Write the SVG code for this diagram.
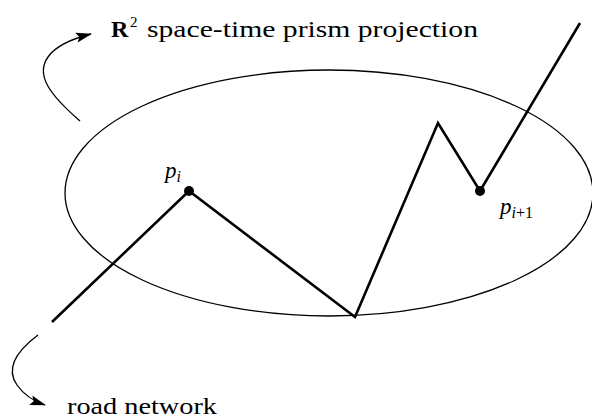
<svg xmlns="http://www.w3.org/2000/svg" width="592" height="419" viewBox="0 0 592 419">
<defs>
<style>
.t{font-family:"Liberation Serif","DejaVu Serif",serif;fill:#000}
.road{fill:none;stroke:#000;stroke-width:2.6;stroke-linejoin:miter}
.thin{fill:none;stroke:#000;stroke-width:1.3}
</style>
<marker id="ah" viewBox="0 0 10 10" refX="9" refY="5" markerWidth="10" markerHeight="10" markerUnits="userSpaceOnUse" orient="auto" overflow="visible">
<path d="M0,0 L16,5 L0,10 L3,5 Z" fill="#000" transform="translate(-6,0)"/>
</marker>
</defs>
<rect width="592" height="419" fill="#fff"/>
<g id="prism">
<ellipse class="thin" cx="329" cy="193" rx="264" ry="123"/>
</g>
<g id="connectors">
<path class="road" d="M52,322 L189,191 L355,317 L438,123 L480,191 L580,23"/>
<path class="thin" d="M80,121 C50,95 35,75 48,57 C57,44 75,38 91,34" marker-end="url(#ah)"/>
<path class="thin" d="M38,335 C18,350 5,368 17,385 C24,395 33,401 45,405" marker-end="url(#ah)"/>
</g>
<g id="pi">
<circle cx="189" cy="191" r="5"/>
<text class="t" x="165" y="178" font-size="23" font-style="italic">p<tspan font-size="16" dy="4">i</tspan></text>
</g>
<g id="pi1">
<circle cx="480" cy="191" r="5"/>
<text class="t" x="500" y="214" font-size="23" font-style="italic">p<tspan font-size="16" dy="4">i</tspan><tspan font-size="16" font-style="normal">+1</tspan></text>
</g>
<g id="label-r2">
<text class="t" x="111" y="37" font-size="24" font-weight="bold">R</text>
<text class="t" x="130" y="27" font-size="15">2</text>
<text class="t" x="147" y="37" font-size="23" textLength="331" lengthAdjust="spacingAndGlyphs">space-time prism projection</text>
</g>
<g id="label-road">
<text class="t" x="67" y="414" font-size="23" textLength="150" lengthAdjust="spacingAndGlyphs">road network</text>
</g>
</svg>
